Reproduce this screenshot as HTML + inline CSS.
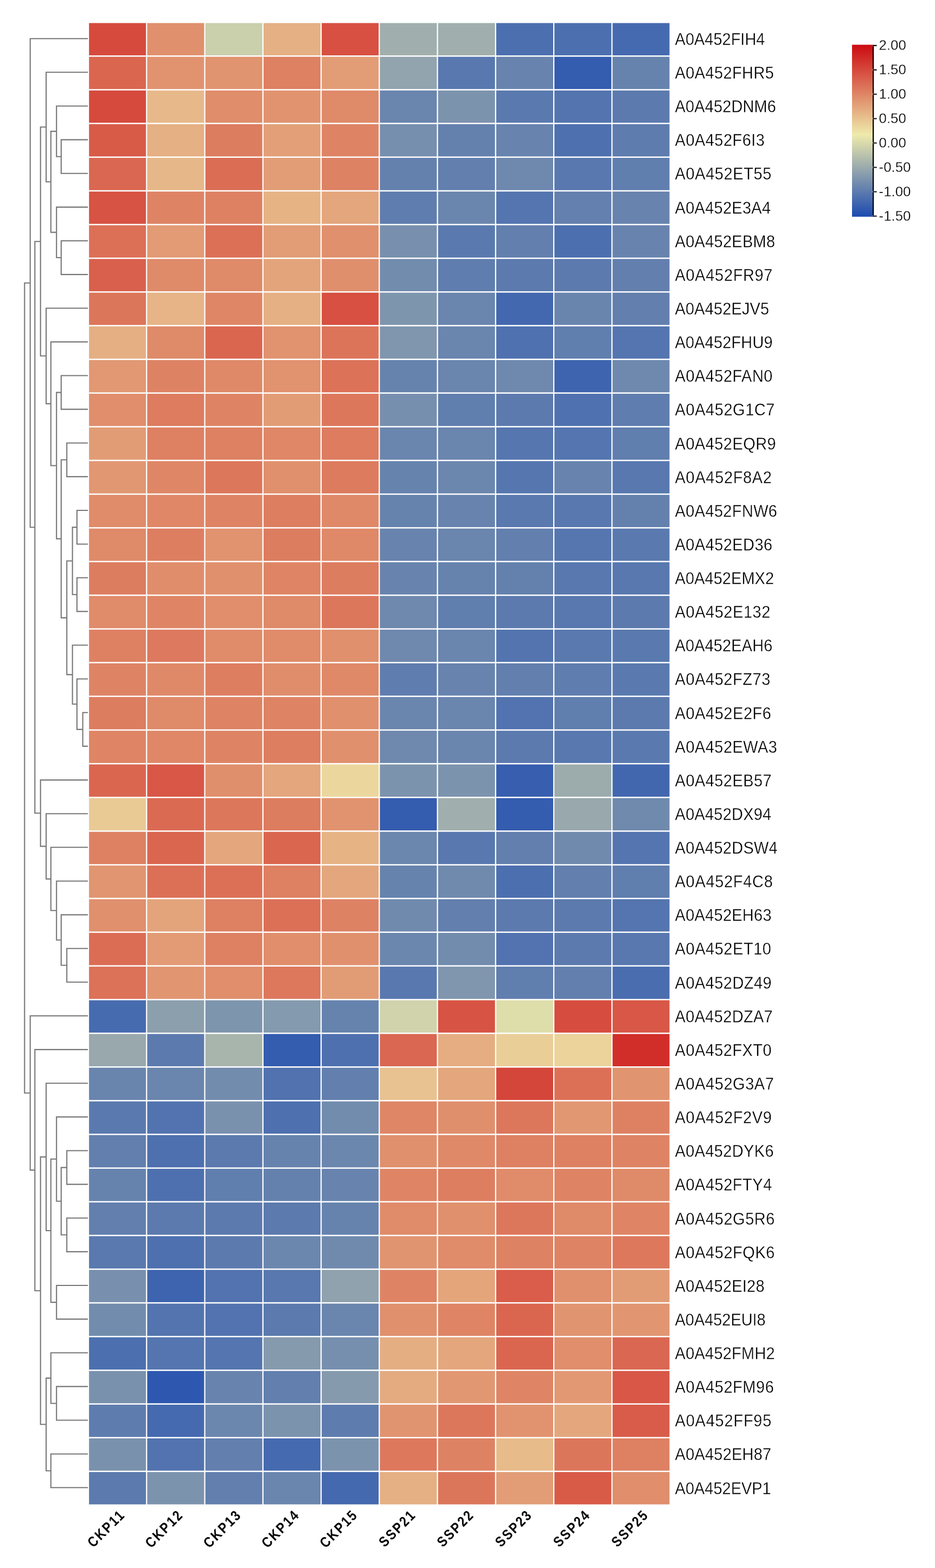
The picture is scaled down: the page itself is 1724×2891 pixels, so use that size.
<!DOCTYPE html>
<html lang="en"><head><meta charset="utf-8"><title>Heatmap</title>
<style>html,body{margin:0;padding:0;background:#fff}svg{display:block}.rl{font-family:"Liberation Sans",Arial,sans-serif;font-size:30.5px;fill:#000;stroke:#fff;stroke-width:0.35px}.cl{font-family:"Liberation Sans",Arial,sans-serif;font-size:26.5px;font-weight:bold;fill:#000;letter-spacing:3px}.lg{font-family:"Liberation Sans",Arial,sans-serif;font-size:25.8px;fill:#000;stroke:#fff;stroke-width:0.3px}</style></head><body>
<svg width="1724" height="2891" viewBox="0 0 1724 2891">
<rect width="1724" height="2891" fill="#fff"/>
<g>
<rect x="164.15" y="42.50" width="105.0" height="59.6" fill="#d64a3d"/>
<rect x="271.41" y="42.50" width="105.0" height="59.6" fill="#e0906d"/>
<rect x="378.67" y="42.50" width="105.0" height="59.6" fill="#cacfac"/>
<rect x="485.93" y="42.50" width="105.0" height="59.6" fill="#e5b083"/>
<rect x="593.19" y="42.50" width="105.0" height="59.6" fill="#d75041"/>
<rect x="700.45" y="42.50" width="105.0" height="59.6" fill="#a0afad"/>
<rect x="807.71" y="42.50" width="105.0" height="59.6" fill="#a0afad"/>
<rect x="914.97" y="42.50" width="105.0" height="59.6" fill="#4c6faf"/>
<rect x="1022.23" y="42.50" width="105.0" height="59.6" fill="#4c6faf"/>
<rect x="1129.49" y="42.50" width="105.0" height="59.6" fill="#466aaf"/>
<rect x="164.15" y="104.63" width="105.0" height="59.6" fill="#da6650"/>
<rect x="271.41" y="104.63" width="105.0" height="59.6" fill="#e1936f"/>
<rect x="378.67" y="104.63" width="105.0" height="59.6" fill="#e19470"/>
<rect x="485.93" y="104.63" width="105.0" height="59.6" fill="#de8062"/>
<rect x="593.19" y="104.63" width="105.0" height="59.6" fill="#e29d76"/>
<rect x="700.45" y="104.63" width="105.0" height="59.6" fill="#92a4ad"/>
<rect x="807.71" y="104.63" width="105.0" height="59.6" fill="#5878af"/>
<rect x="914.97" y="104.63" width="105.0" height="59.6" fill="#6884ae"/>
<rect x="1022.23" y="104.63" width="105.0" height="59.6" fill="#345caf"/>
<rect x="1129.49" y="104.63" width="105.0" height="59.6" fill="#6683ae"/>
<rect x="164.15" y="166.76" width="105.0" height="59.6" fill="#d64a3d"/>
<rect x="271.41" y="166.76" width="105.0" height="59.6" fill="#e7b98a"/>
<rect x="378.67" y="166.76" width="105.0" height="59.6" fill="#e08d6b"/>
<rect x="485.93" y="166.76" width="105.0" height="59.6" fill="#e1936f"/>
<rect x="593.19" y="166.76" width="105.0" height="59.6" fill="#df8a69"/>
<rect x="700.45" y="166.76" width="105.0" height="59.6" fill="#6a85ae"/>
<rect x="807.71" y="166.76" width="105.0" height="59.6" fill="#7c93ae"/>
<rect x="914.97" y="166.76" width="105.0" height="59.6" fill="#5a7aaf"/>
<rect x="1022.23" y="166.76" width="105.0" height="59.6" fill="#5374af"/>
<rect x="1129.49" y="166.76" width="105.0" height="59.6" fill="#5c7aae"/>
<rect x="164.15" y="228.89" width="105.0" height="59.6" fill="#d85b48"/>
<rect x="271.41" y="228.89" width="105.0" height="59.6" fill="#e5b083"/>
<rect x="378.67" y="228.89" width="105.0" height="59.6" fill="#dd7d60"/>
<rect x="485.93" y="228.89" width="105.0" height="59.6" fill="#e3a078"/>
<rect x="593.19" y="228.89" width="105.0" height="59.6" fill="#de8465"/>
<rect x="700.45" y="228.89" width="105.0" height="59.6" fill="#768fae"/>
<rect x="807.71" y="228.89" width="105.0" height="59.6" fill="#6481ae"/>
<rect x="914.97" y="228.89" width="105.0" height="59.6" fill="#6884ae"/>
<rect x="1022.23" y="228.89" width="105.0" height="59.6" fill="#4e70af"/>
<rect x="1129.49" y="228.89" width="105.0" height="59.6" fill="#5e7cae"/>
<rect x="164.15" y="291.02" width="105.0" height="59.6" fill="#da6751"/>
<rect x="271.41" y="291.02" width="105.0" height="59.6" fill="#e6b788"/>
<rect x="378.67" y="291.02" width="105.0" height="59.6" fill="#db6d55"/>
<rect x="485.93" y="291.02" width="105.0" height="59.6" fill="#e29d76"/>
<rect x="593.19" y="291.02" width="105.0" height="59.6" fill="#de8264"/>
<rect x="700.45" y="291.02" width="105.0" height="59.6" fill="#6481ae"/>
<rect x="807.71" y="291.02" width="105.0" height="59.6" fill="#627fae"/>
<rect x="914.97" y="291.02" width="105.0" height="59.6" fill="#6e88ae"/>
<rect x="1022.23" y="291.02" width="105.0" height="59.6" fill="#5878af"/>
<rect x="1129.49" y="291.02" width="105.0" height="59.6" fill="#607eae"/>
<rect x="164.15" y="353.15" width="105.0" height="59.6" fill="#d75343"/>
<rect x="271.41" y="353.15" width="105.0" height="59.6" fill="#de8465"/>
<rect x="378.67" y="353.15" width="105.0" height="59.6" fill="#de8163"/>
<rect x="485.93" y="353.15" width="105.0" height="59.6" fill="#e6b385"/>
<rect x="593.19" y="353.15" width="105.0" height="59.6" fill="#e4a67c"/>
<rect x="700.45" y="353.15" width="105.0" height="59.6" fill="#5f7dae"/>
<rect x="807.71" y="353.15" width="105.0" height="59.6" fill="#6b86ae"/>
<rect x="914.97" y="353.15" width="105.0" height="59.6" fill="#5475af"/>
<rect x="1022.23" y="353.15" width="105.0" height="59.6" fill="#6380ae"/>
<rect x="1129.49" y="353.15" width="105.0" height="59.6" fill="#6884ae"/>
<rect x="164.15" y="415.28" width="105.0" height="59.6" fill="#dc7057"/>
<rect x="271.41" y="415.28" width="105.0" height="59.6" fill="#e29b74"/>
<rect x="378.67" y="415.28" width="105.0" height="59.6" fill="#dc7057"/>
<rect x="485.93" y="415.28" width="105.0" height="59.6" fill="#e29d76"/>
<rect x="593.19" y="415.28" width="105.0" height="59.6" fill="#e0906d"/>
<rect x="700.45" y="415.28" width="105.0" height="59.6" fill="#7890ae"/>
<rect x="807.71" y="415.28" width="105.0" height="59.6" fill="#5a7aaf"/>
<rect x="914.97" y="415.28" width="105.0" height="59.6" fill="#627fae"/>
<rect x="1022.23" y="415.28" width="105.0" height="59.6" fill="#4c6faf"/>
<rect x="1129.49" y="415.28" width="105.0" height="59.6" fill="#6884ae"/>
<rect x="164.15" y="477.41" width="105.0" height="59.6" fill="#d9604c"/>
<rect x="271.41" y="477.41" width="105.0" height="59.6" fill="#df8a69"/>
<rect x="378.67" y="477.41" width="105.0" height="59.6" fill="#df8a69"/>
<rect x="485.93" y="477.41" width="105.0" height="59.6" fill="#e3a47b"/>
<rect x="593.19" y="477.41" width="105.0" height="59.6" fill="#e08f6d"/>
<rect x="700.45" y="477.41" width="105.0" height="59.6" fill="#728cae"/>
<rect x="807.71" y="477.41" width="105.0" height="59.6" fill="#5f7dae"/>
<rect x="914.97" y="477.41" width="105.0" height="59.6" fill="#5c7aae"/>
<rect x="1022.23" y="477.41" width="105.0" height="59.6" fill="#5c7aae"/>
<rect x="1129.49" y="477.41" width="105.0" height="59.6" fill="#627fae"/>
<rect x="164.15" y="539.54" width="105.0" height="59.6" fill="#dc765b"/>
<rect x="271.41" y="539.54" width="105.0" height="59.6" fill="#e6b486"/>
<rect x="378.67" y="539.54" width="105.0" height="59.6" fill="#df8666"/>
<rect x="485.93" y="539.54" width="105.0" height="59.6" fill="#e5b083"/>
<rect x="593.19" y="539.54" width="105.0" height="59.6" fill="#d75041"/>
<rect x="700.45" y="539.54" width="105.0" height="59.6" fill="#7e95ae"/>
<rect x="807.71" y="539.54" width="105.0" height="59.6" fill="#6a85ae"/>
<rect x="914.97" y="539.54" width="105.0" height="59.6" fill="#4468af"/>
<rect x="1022.23" y="539.54" width="105.0" height="59.6" fill="#6985ae"/>
<rect x="1129.49" y="539.54" width="105.0" height="59.6" fill="#627fae"/>
<rect x="164.15" y="601.67" width="105.0" height="59.6" fill="#e5af83"/>
<rect x="271.41" y="601.67" width="105.0" height="59.6" fill="#df8a69"/>
<rect x="378.67" y="601.67" width="105.0" height="59.6" fill="#da6650"/>
<rect x="485.93" y="601.67" width="105.0" height="59.6" fill="#e1926e"/>
<rect x="593.19" y="601.67" width="105.0" height="59.6" fill="#dc745a"/>
<rect x="700.45" y="601.67" width="105.0" height="59.6" fill="#8096ae"/>
<rect x="807.71" y="601.67" width="105.0" height="59.6" fill="#6a85ae"/>
<rect x="914.97" y="601.67" width="105.0" height="59.6" fill="#5071af"/>
<rect x="1022.23" y="601.67" width="105.0" height="59.6" fill="#607eae"/>
<rect x="1129.49" y="601.67" width="105.0" height="59.6" fill="#5475af"/>
<rect x="164.15" y="663.80" width="105.0" height="59.6" fill="#e29873"/>
<rect x="271.41" y="663.80" width="105.0" height="59.6" fill="#de8264"/>
<rect x="378.67" y="663.80" width="105.0" height="59.6" fill="#df8968"/>
<rect x="485.93" y="663.80" width="105.0" height="59.6" fill="#e1926e"/>
<rect x="593.19" y="663.80" width="105.0" height="59.6" fill="#dc7258"/>
<rect x="700.45" y="663.80" width="105.0" height="59.6" fill="#6683ae"/>
<rect x="807.71" y="663.80" width="105.0" height="59.6" fill="#6a85ae"/>
<rect x="914.97" y="663.80" width="105.0" height="59.6" fill="#6e88ae"/>
<rect x="1022.23" y="663.80" width="105.0" height="59.6" fill="#3e64af"/>
<rect x="1129.49" y="663.80" width="105.0" height="59.6" fill="#6e88ae"/>
<rect x="164.15" y="725.93" width="105.0" height="59.6" fill="#e08e6c"/>
<rect x="271.41" y="725.93" width="105.0" height="59.6" fill="#dd7c5f"/>
<rect x="378.67" y="725.93" width="105.0" height="59.6" fill="#de8465"/>
<rect x="485.93" y="725.93" width="105.0" height="59.6" fill="#e29c75"/>
<rect x="593.19" y="725.93" width="105.0" height="59.6" fill="#dd775c"/>
<rect x="700.45" y="725.93" width="105.0" height="59.6" fill="#778fae"/>
<rect x="807.71" y="725.93" width="105.0" height="59.6" fill="#607eae"/>
<rect x="914.97" y="725.93" width="105.0" height="59.6" fill="#5c7aae"/>
<rect x="1022.23" y="725.93" width="105.0" height="59.6" fill="#5071af"/>
<rect x="1129.49" y="725.93" width="105.0" height="59.6" fill="#5f7dae"/>
<rect x="164.15" y="788.06" width="105.0" height="59.6" fill="#e29c75"/>
<rect x="271.41" y="788.06" width="105.0" height="59.6" fill="#de8062"/>
<rect x="378.67" y="788.06" width="105.0" height="59.6" fill="#de8163"/>
<rect x="485.93" y="788.06" width="105.0" height="59.6" fill="#df8767"/>
<rect x="593.19" y="788.06" width="105.0" height="59.6" fill="#dd7c5f"/>
<rect x="700.45" y="788.06" width="105.0" height="59.6" fill="#6b86ae"/>
<rect x="807.71" y="788.06" width="105.0" height="59.6" fill="#6a85ae"/>
<rect x="914.97" y="788.06" width="105.0" height="59.6" fill="#5676af"/>
<rect x="1022.23" y="788.06" width="105.0" height="59.6" fill="#5475af"/>
<rect x="1129.49" y="788.06" width="105.0" height="59.6" fill="#607eae"/>
<rect x="164.15" y="850.19" width="105.0" height="59.6" fill="#e19772"/>
<rect x="271.41" y="850.19" width="105.0" height="59.6" fill="#df8666"/>
<rect x="378.67" y="850.19" width="105.0" height="59.6" fill="#dd775c"/>
<rect x="485.93" y="850.19" width="105.0" height="59.6" fill="#e0906d"/>
<rect x="593.19" y="850.19" width="105.0" height="59.6" fill="#dd7b5e"/>
<rect x="700.45" y="850.19" width="105.0" height="59.6" fill="#6683ae"/>
<rect x="807.71" y="850.19" width="105.0" height="59.6" fill="#6c87ae"/>
<rect x="914.97" y="850.19" width="105.0" height="59.6" fill="#5676af"/>
<rect x="1022.23" y="850.19" width="105.0" height="59.6" fill="#6884ae"/>
<rect x="1129.49" y="850.19" width="105.0" height="59.6" fill="#5878af"/>
<rect x="164.15" y="912.32" width="105.0" height="59.6" fill="#e08b6a"/>
<rect x="271.41" y="912.32" width="105.0" height="59.6" fill="#df8767"/>
<rect x="378.67" y="912.32" width="105.0" height="59.6" fill="#de8465"/>
<rect x="485.93" y="912.32" width="105.0" height="59.6" fill="#de7e61"/>
<rect x="593.19" y="912.32" width="105.0" height="59.6" fill="#df8968"/>
<rect x="700.45" y="912.32" width="105.0" height="59.6" fill="#6683ae"/>
<rect x="807.71" y="912.32" width="105.0" height="59.6" fill="#6884ae"/>
<rect x="914.97" y="912.32" width="105.0" height="59.6" fill="#5979af"/>
<rect x="1022.23" y="912.32" width="105.0" height="59.6" fill="#5878af"/>
<rect x="1129.49" y="912.32" width="105.0" height="59.6" fill="#6481ae"/>
<rect x="164.15" y="974.45" width="105.0" height="59.6" fill="#df8a69"/>
<rect x="271.41" y="974.45" width="105.0" height="59.6" fill="#de7e61"/>
<rect x="378.67" y="974.45" width="105.0" height="59.6" fill="#e1936f"/>
<rect x="485.93" y="974.45" width="105.0" height="59.6" fill="#dd7d60"/>
<rect x="593.19" y="974.45" width="105.0" height="59.6" fill="#df8968"/>
<rect x="700.45" y="974.45" width="105.0" height="59.6" fill="#6884ae"/>
<rect x="807.71" y="974.45" width="105.0" height="59.6" fill="#6a85ae"/>
<rect x="914.97" y="974.45" width="105.0" height="59.6" fill="#627fae"/>
<rect x="1022.23" y="974.45" width="105.0" height="59.6" fill="#5676af"/>
<rect x="1129.49" y="974.45" width="105.0" height="59.6" fill="#5a7aaf"/>
<rect x="164.15" y="1036.58" width="105.0" height="59.6" fill="#dd7d60"/>
<rect x="271.41" y="1036.58" width="105.0" height="59.6" fill="#e08d6b"/>
<rect x="378.67" y="1036.58" width="105.0" height="59.6" fill="#e0906d"/>
<rect x="485.93" y="1036.58" width="105.0" height="59.6" fill="#df8565"/>
<rect x="593.19" y="1036.58" width="105.0" height="59.6" fill="#dd7d60"/>
<rect x="700.45" y="1036.58" width="105.0" height="59.6" fill="#6884ae"/>
<rect x="807.71" y="1036.58" width="105.0" height="59.6" fill="#6683ae"/>
<rect x="914.97" y="1036.58" width="105.0" height="59.6" fill="#6481ae"/>
<rect x="1022.23" y="1036.58" width="105.0" height="59.6" fill="#5878af"/>
<rect x="1129.49" y="1036.58" width="105.0" height="59.6" fill="#5878af"/>
<rect x="164.15" y="1098.71" width="105.0" height="59.6" fill="#e08b6a"/>
<rect x="271.41" y="1098.71" width="105.0" height="59.6" fill="#df8565"/>
<rect x="378.67" y="1098.71" width="105.0" height="59.6" fill="#e08e6c"/>
<rect x="485.93" y="1098.71" width="105.0" height="59.6" fill="#df8a69"/>
<rect x="593.19" y="1098.71" width="105.0" height="59.6" fill="#dd775c"/>
<rect x="700.45" y="1098.71" width="105.0" height="59.6" fill="#6e88ae"/>
<rect x="807.71" y="1098.71" width="105.0" height="59.6" fill="#607eae"/>
<rect x="914.97" y="1098.71" width="105.0" height="59.6" fill="#5c7aae"/>
<rect x="1022.23" y="1098.71" width="105.0" height="59.6" fill="#5878af"/>
<rect x="1129.49" y="1098.71" width="105.0" height="59.6" fill="#5c7aae"/>
<rect x="164.15" y="1160.84" width="105.0" height="59.6" fill="#de8163"/>
<rect x="271.41" y="1160.84" width="105.0" height="59.6" fill="#dd795e"/>
<rect x="378.67" y="1160.84" width="105.0" height="59.6" fill="#e08b6a"/>
<rect x="485.93" y="1160.84" width="105.0" height="59.6" fill="#e08b6a"/>
<rect x="593.19" y="1160.84" width="105.0" height="59.6" fill="#e0906d"/>
<rect x="700.45" y="1160.84" width="105.0" height="59.6" fill="#6e88ae"/>
<rect x="807.71" y="1160.84" width="105.0" height="59.6" fill="#6a85ae"/>
<rect x="914.97" y="1160.84" width="105.0" height="59.6" fill="#5374af"/>
<rect x="1022.23" y="1160.84" width="105.0" height="59.6" fill="#5979af"/>
<rect x="1129.49" y="1160.84" width="105.0" height="59.6" fill="#5a7aaf"/>
<rect x="164.15" y="1222.97" width="105.0" height="59.6" fill="#de8465"/>
<rect x="271.41" y="1222.97" width="105.0" height="59.6" fill="#df8968"/>
<rect x="378.67" y="1222.97" width="105.0" height="59.6" fill="#de7e61"/>
<rect x="485.93" y="1222.97" width="105.0" height="59.6" fill="#e08d6b"/>
<rect x="593.19" y="1222.97" width="105.0" height="59.6" fill="#df8968"/>
<rect x="700.45" y="1222.97" width="105.0" height="59.6" fill="#5f7dae"/>
<rect x="807.71" y="1222.97" width="105.0" height="59.6" fill="#6884ae"/>
<rect x="914.97" y="1222.97" width="105.0" height="59.6" fill="#627fae"/>
<rect x="1022.23" y="1222.97" width="105.0" height="59.6" fill="#5f7dae"/>
<rect x="1129.49" y="1222.97" width="105.0" height="59.6" fill="#5a7aaf"/>
<rect x="164.15" y="1285.10" width="105.0" height="59.6" fill="#dd7d60"/>
<rect x="271.41" y="1285.10" width="105.0" height="59.6" fill="#df8a69"/>
<rect x="378.67" y="1285.10" width="105.0" height="59.6" fill="#de8465"/>
<rect x="485.93" y="1285.10" width="105.0" height="59.6" fill="#de8465"/>
<rect x="593.19" y="1285.10" width="105.0" height="59.6" fill="#e0906d"/>
<rect x="700.45" y="1285.10" width="105.0" height="59.6" fill="#6a85ae"/>
<rect x="807.71" y="1285.10" width="105.0" height="59.6" fill="#6a85ae"/>
<rect x="914.97" y="1285.10" width="105.0" height="59.6" fill="#5273af"/>
<rect x="1022.23" y="1285.10" width="105.0" height="59.6" fill="#607eae"/>
<rect x="1129.49" y="1285.10" width="105.0" height="59.6" fill="#5c7aae"/>
<rect x="164.15" y="1347.23" width="105.0" height="59.6" fill="#df8565"/>
<rect x="271.41" y="1347.23" width="105.0" height="59.6" fill="#df8767"/>
<rect x="378.67" y="1347.23" width="105.0" height="59.6" fill="#de8465"/>
<rect x="485.93" y="1347.23" width="105.0" height="59.6" fill="#de7e61"/>
<rect x="593.19" y="1347.23" width="105.0" height="59.6" fill="#e0906d"/>
<rect x="700.45" y="1347.23" width="105.0" height="59.6" fill="#6e88ae"/>
<rect x="807.71" y="1347.23" width="105.0" height="59.6" fill="#6a85ae"/>
<rect x="914.97" y="1347.23" width="105.0" height="59.6" fill="#5c7aae"/>
<rect x="1022.23" y="1347.23" width="105.0" height="59.6" fill="#5878af"/>
<rect x="1129.49" y="1347.23" width="105.0" height="59.6" fill="#5a7aaf"/>
<rect x="164.15" y="1409.36" width="105.0" height="59.6" fill="#da6650"/>
<rect x="271.41" y="1409.36" width="105.0" height="59.6" fill="#d85746"/>
<rect x="378.67" y="1409.36" width="105.0" height="59.6" fill="#e08f6d"/>
<rect x="485.93" y="1409.36" width="105.0" height="59.6" fill="#e4a67c"/>
<rect x="593.19" y="1409.36" width="105.0" height="59.6" fill="#ebd79e"/>
<rect x="700.45" y="1409.36" width="105.0" height="59.6" fill="#7c93ae"/>
<rect x="807.71" y="1409.36" width="105.0" height="59.6" fill="#7c93ae"/>
<rect x="914.97" y="1409.36" width="105.0" height="59.6" fill="#385faf"/>
<rect x="1022.23" y="1409.36" width="105.0" height="59.6" fill="#9cacad"/>
<rect x="1129.49" y="1409.36" width="105.0" height="59.6" fill="#4267af"/>
<rect x="164.15" y="1471.49" width="105.0" height="59.6" fill="#e9ca95"/>
<rect x="271.41" y="1471.49" width="105.0" height="59.6" fill="#db6a53"/>
<rect x="378.67" y="1471.49" width="105.0" height="59.6" fill="#dd775c"/>
<rect x="485.93" y="1471.49" width="105.0" height="59.6" fill="#dd7d60"/>
<rect x="593.19" y="1471.49" width="105.0" height="59.6" fill="#e1936f"/>
<rect x="700.45" y="1471.49" width="105.0" height="59.6" fill="#345caf"/>
<rect x="807.71" y="1471.49" width="105.0" height="59.6" fill="#a0afad"/>
<rect x="914.97" y="1471.49" width="105.0" height="59.6" fill="#345caf"/>
<rect x="1022.23" y="1471.49" width="105.0" height="59.6" fill="#98a8ad"/>
<rect x="1129.49" y="1471.49" width="105.0" height="59.6" fill="#708aae"/>
<rect x="164.15" y="1533.62" width="105.0" height="59.6" fill="#de8163"/>
<rect x="271.41" y="1533.62" width="105.0" height="59.6" fill="#da6650"/>
<rect x="378.67" y="1533.62" width="105.0" height="59.6" fill="#e4a77d"/>
<rect x="485.93" y="1533.62" width="105.0" height="59.6" fill="#da6650"/>
<rect x="593.19" y="1533.62" width="105.0" height="59.6" fill="#e6b385"/>
<rect x="700.45" y="1533.62" width="105.0" height="59.6" fill="#6c87ae"/>
<rect x="807.71" y="1533.62" width="105.0" height="59.6" fill="#5878af"/>
<rect x="914.97" y="1533.62" width="105.0" height="59.6" fill="#627fae"/>
<rect x="1022.23" y="1533.62" width="105.0" height="59.6" fill="#708aae"/>
<rect x="1129.49" y="1533.62" width="105.0" height="59.6" fill="#5475af"/>
<rect x="164.15" y="1595.75" width="105.0" height="59.6" fill="#e19671"/>
<rect x="271.41" y="1595.75" width="105.0" height="59.6" fill="#dc7057"/>
<rect x="378.67" y="1595.75" width="105.0" height="59.6" fill="#dc7057"/>
<rect x="485.93" y="1595.75" width="105.0" height="59.6" fill="#de8062"/>
<rect x="593.19" y="1595.75" width="105.0" height="59.6" fill="#e4a77d"/>
<rect x="700.45" y="1595.75" width="105.0" height="59.6" fill="#6683ae"/>
<rect x="807.71" y="1595.75" width="105.0" height="59.6" fill="#708aae"/>
<rect x="914.97" y="1595.75" width="105.0" height="59.6" fill="#4c6faf"/>
<rect x="1022.23" y="1595.75" width="105.0" height="59.6" fill="#627fae"/>
<rect x="1129.49" y="1595.75" width="105.0" height="59.6" fill="#607eae"/>
<rect x="164.15" y="1657.88" width="105.0" height="59.6" fill="#e0906d"/>
<rect x="271.41" y="1657.88" width="105.0" height="59.6" fill="#e3a47b"/>
<rect x="378.67" y="1657.88" width="105.0" height="59.6" fill="#de8062"/>
<rect x="485.93" y="1657.88" width="105.0" height="59.6" fill="#dc7057"/>
<rect x="593.19" y="1657.88" width="105.0" height="59.6" fill="#de8264"/>
<rect x="700.45" y="1657.88" width="105.0" height="59.6" fill="#708aae"/>
<rect x="807.71" y="1657.88" width="105.0" height="59.6" fill="#627fae"/>
<rect x="914.97" y="1657.88" width="105.0" height="59.6" fill="#5c7aae"/>
<rect x="1022.23" y="1657.88" width="105.0" height="59.6" fill="#5c7aae"/>
<rect x="1129.49" y="1657.88" width="105.0" height="59.6" fill="#5475af"/>
<rect x="164.15" y="1720.01" width="105.0" height="59.6" fill="#db6d55"/>
<rect x="271.41" y="1720.01" width="105.0" height="59.6" fill="#e29b74"/>
<rect x="378.67" y="1720.01" width="105.0" height="59.6" fill="#de8062"/>
<rect x="485.93" y="1720.01" width="105.0" height="59.6" fill="#e08e6c"/>
<rect x="593.19" y="1720.01" width="105.0" height="59.6" fill="#e0906d"/>
<rect x="700.45" y="1720.01" width="105.0" height="59.6" fill="#6c87ae"/>
<rect x="807.71" y="1720.01" width="105.0" height="59.6" fill="#728cae"/>
<rect x="914.97" y="1720.01" width="105.0" height="59.6" fill="#5273af"/>
<rect x="1022.23" y="1720.01" width="105.0" height="59.6" fill="#5c7aae"/>
<rect x="1129.49" y="1720.01" width="105.0" height="59.6" fill="#5878af"/>
<rect x="164.15" y="1782.14" width="105.0" height="59.6" fill="#dc7258"/>
<rect x="271.41" y="1782.14" width="105.0" height="59.6" fill="#e19671"/>
<rect x="378.67" y="1782.14" width="105.0" height="59.6" fill="#e08e6c"/>
<rect x="485.93" y="1782.14" width="105.0" height="59.6" fill="#dd785d"/>
<rect x="593.19" y="1782.14" width="105.0" height="59.6" fill="#e29c75"/>
<rect x="700.45" y="1782.14" width="105.0" height="59.6" fill="#5878af"/>
<rect x="807.71" y="1782.14" width="105.0" height="59.6" fill="#8096ae"/>
<rect x="914.97" y="1782.14" width="105.0" height="59.6" fill="#607eae"/>
<rect x="1022.23" y="1782.14" width="105.0" height="59.6" fill="#627fae"/>
<rect x="1129.49" y="1782.14" width="105.0" height="59.6" fill="#4a6daf"/>
<rect x="164.15" y="1844.27" width="105.0" height="59.6" fill="#476baf"/>
<rect x="271.41" y="1844.27" width="105.0" height="59.6" fill="#8c9fad"/>
<rect x="378.67" y="1844.27" width="105.0" height="59.6" fill="#7e95ae"/>
<rect x="485.93" y="1844.27" width="105.0" height="59.6" fill="#849aae"/>
<rect x="593.19" y="1844.27" width="105.0" height="59.6" fill="#6683ae"/>
<rect x="700.45" y="1844.27" width="105.0" height="59.6" fill="#d0d3ac"/>
<rect x="807.71" y="1844.27" width="105.0" height="59.6" fill="#d75444"/>
<rect x="914.97" y="1844.27" width="105.0" height="59.6" fill="#dedeab"/>
<rect x="1022.23" y="1844.27" width="105.0" height="59.6" fill="#d64d3f"/>
<rect x="1129.49" y="1844.27" width="105.0" height="59.6" fill="#d85746"/>
<rect x="164.15" y="1906.40" width="105.0" height="59.6" fill="#98a8ad"/>
<rect x="271.41" y="1906.40" width="105.0" height="59.6" fill="#5c7aae"/>
<rect x="378.67" y="1906.40" width="105.0" height="59.6" fill="#a8b5ad"/>
<rect x="485.93" y="1906.40" width="105.0" height="59.6" fill="#345caf"/>
<rect x="593.19" y="1906.40" width="105.0" height="59.6" fill="#4e70af"/>
<rect x="700.45" y="1906.40" width="105.0" height="59.6" fill="#da6751"/>
<rect x="807.71" y="1906.40" width="105.0" height="59.6" fill="#e5ad81"/>
<rect x="914.97" y="1906.40" width="105.0" height="59.6" fill="#eace98"/>
<rect x="1022.23" y="1906.40" width="105.0" height="59.6" fill="#ebd39b"/>
<rect x="1129.49" y="1906.40" width="105.0" height="59.6" fill="#d12e2a"/>
<rect x="164.15" y="1968.53" width="105.0" height="59.6" fill="#6985ae"/>
<rect x="271.41" y="1968.53" width="105.0" height="59.6" fill="#6a85ae"/>
<rect x="378.67" y="1968.53" width="105.0" height="59.6" fill="#728cae"/>
<rect x="485.93" y="1968.53" width="105.0" height="59.6" fill="#5172af"/>
<rect x="593.19" y="1968.53" width="105.0" height="59.6" fill="#627fae"/>
<rect x="700.45" y="1968.53" width="105.0" height="59.6" fill="#e8c290"/>
<rect x="807.71" y="1968.53" width="105.0" height="59.6" fill="#e4a67c"/>
<rect x="914.97" y="1968.53" width="105.0" height="59.6" fill="#d5463a"/>
<rect x="1022.23" y="1968.53" width="105.0" height="59.6" fill="#dc7057"/>
<rect x="1129.49" y="1968.53" width="105.0" height="59.6" fill="#e19470"/>
<rect x="164.15" y="2030.66" width="105.0" height="59.6" fill="#5a7aaf"/>
<rect x="271.41" y="2030.66" width="105.0" height="59.6" fill="#5273af"/>
<rect x="378.67" y="2030.66" width="105.0" height="59.6" fill="#7a91ae"/>
<rect x="485.93" y="2030.66" width="105.0" height="59.6" fill="#4e70af"/>
<rect x="593.19" y="2030.66" width="105.0" height="59.6" fill="#728cae"/>
<rect x="700.45" y="2030.66" width="105.0" height="59.6" fill="#df8666"/>
<rect x="807.71" y="2030.66" width="105.0" height="59.6" fill="#e08f6d"/>
<rect x="914.97" y="2030.66" width="105.0" height="59.6" fill="#dd775c"/>
<rect x="1022.23" y="2030.66" width="105.0" height="59.6" fill="#e19772"/>
<rect x="1129.49" y="2030.66" width="105.0" height="59.6" fill="#de8163"/>
<rect x="164.15" y="2092.79" width="105.0" height="59.6" fill="#627fae"/>
<rect x="271.41" y="2092.79" width="105.0" height="59.6" fill="#4e70af"/>
<rect x="378.67" y="2092.79" width="105.0" height="59.6" fill="#5c7aae"/>
<rect x="485.93" y="2092.79" width="105.0" height="59.6" fill="#6683ae"/>
<rect x="593.19" y="2092.79" width="105.0" height="59.6" fill="#6c87ae"/>
<rect x="700.45" y="2092.79" width="105.0" height="59.6" fill="#e0906d"/>
<rect x="807.71" y="2092.79" width="105.0" height="59.6" fill="#df8968"/>
<rect x="914.97" y="2092.79" width="105.0" height="59.6" fill="#de8163"/>
<rect x="1022.23" y="2092.79" width="105.0" height="59.6" fill="#de8163"/>
<rect x="1129.49" y="2092.79" width="105.0" height="59.6" fill="#de8465"/>
<rect x="164.15" y="2154.92" width="105.0" height="59.6" fill="#6683ae"/>
<rect x="271.41" y="2154.92" width="105.0" height="59.6" fill="#4e70af"/>
<rect x="378.67" y="2154.92" width="105.0" height="59.6" fill="#607eae"/>
<rect x="485.93" y="2154.92" width="105.0" height="59.6" fill="#6481ae"/>
<rect x="593.19" y="2154.92" width="105.0" height="59.6" fill="#6884ae"/>
<rect x="700.45" y="2154.92" width="105.0" height="59.6" fill="#df8565"/>
<rect x="807.71" y="2154.92" width="105.0" height="59.6" fill="#de7e61"/>
<rect x="914.97" y="2154.92" width="105.0" height="59.6" fill="#e08b6a"/>
<rect x="1022.23" y="2154.92" width="105.0" height="59.6" fill="#de8465"/>
<rect x="1129.49" y="2154.92" width="105.0" height="59.6" fill="#df8a69"/>
<rect x="164.15" y="2217.05" width="105.0" height="59.6" fill="#627fae"/>
<rect x="271.41" y="2217.05" width="105.0" height="59.6" fill="#5c7aae"/>
<rect x="378.67" y="2217.05" width="105.0" height="59.6" fill="#5c7aae"/>
<rect x="485.93" y="2217.05" width="105.0" height="59.6" fill="#5c7aae"/>
<rect x="593.19" y="2217.05" width="105.0" height="59.6" fill="#6683ae"/>
<rect x="700.45" y="2217.05" width="105.0" height="59.6" fill="#e08b6a"/>
<rect x="807.71" y="2217.05" width="105.0" height="59.6" fill="#e0906d"/>
<rect x="914.97" y="2217.05" width="105.0" height="59.6" fill="#dd775c"/>
<rect x="1022.23" y="2217.05" width="105.0" height="59.6" fill="#df8a69"/>
<rect x="1129.49" y="2217.05" width="105.0" height="59.6" fill="#df8565"/>
<rect x="164.15" y="2279.18" width="105.0" height="59.6" fill="#5979af"/>
<rect x="271.41" y="2279.18" width="105.0" height="59.6" fill="#4e70af"/>
<rect x="378.67" y="2279.18" width="105.0" height="59.6" fill="#5c7aae"/>
<rect x="485.93" y="2279.18" width="105.0" height="59.6" fill="#6c87ae"/>
<rect x="593.19" y="2279.18" width="105.0" height="59.6" fill="#708aae"/>
<rect x="700.45" y="2279.18" width="105.0" height="59.6" fill="#e19470"/>
<rect x="807.71" y="2279.18" width="105.0" height="59.6" fill="#e08b6a"/>
<rect x="914.97" y="2279.18" width="105.0" height="59.6" fill="#de8264"/>
<rect x="1022.23" y="2279.18" width="105.0" height="59.6" fill="#de8465"/>
<rect x="1129.49" y="2279.18" width="105.0" height="59.6" fill="#dd785d"/>
<rect x="164.15" y="2341.31" width="105.0" height="59.6" fill="#7890ae"/>
<rect x="271.41" y="2341.31" width="105.0" height="59.6" fill="#3e64af"/>
<rect x="378.67" y="2341.31" width="105.0" height="59.6" fill="#5273af"/>
<rect x="485.93" y="2341.31" width="105.0" height="59.6" fill="#5878af"/>
<rect x="593.19" y="2341.31" width="105.0" height="59.6" fill="#8fa2ad"/>
<rect x="700.45" y="2341.31" width="105.0" height="59.6" fill="#de8465"/>
<rect x="807.71" y="2341.31" width="105.0" height="59.6" fill="#e4a57b"/>
<rect x="914.97" y="2341.31" width="105.0" height="59.6" fill="#d95d4a"/>
<rect x="1022.23" y="2341.31" width="105.0" height="59.6" fill="#e0906d"/>
<rect x="1129.49" y="2341.31" width="105.0" height="59.6" fill="#e29c75"/>
<rect x="164.15" y="2403.44" width="105.0" height="59.6" fill="#728cae"/>
<rect x="271.41" y="2403.44" width="105.0" height="59.6" fill="#5374af"/>
<rect x="378.67" y="2403.44" width="105.0" height="59.6" fill="#5273af"/>
<rect x="485.93" y="2403.44" width="105.0" height="59.6" fill="#5c7aae"/>
<rect x="593.19" y="2403.44" width="105.0" height="59.6" fill="#6a85ae"/>
<rect x="700.45" y="2403.44" width="105.0" height="59.6" fill="#e0906d"/>
<rect x="807.71" y="2403.44" width="105.0" height="59.6" fill="#df8565"/>
<rect x="914.97" y="2403.44" width="105.0" height="59.6" fill="#da6650"/>
<rect x="1022.23" y="2403.44" width="105.0" height="59.6" fill="#e19470"/>
<rect x="1129.49" y="2403.44" width="105.0" height="59.6" fill="#e19671"/>
<rect x="164.15" y="2465.57" width="105.0" height="59.6" fill="#4c6faf"/>
<rect x="271.41" y="2465.57" width="105.0" height="59.6" fill="#5475af"/>
<rect x="378.67" y="2465.57" width="105.0" height="59.6" fill="#5475af"/>
<rect x="485.93" y="2465.57" width="105.0" height="59.6" fill="#869aad"/>
<rect x="593.19" y="2465.57" width="105.0" height="59.6" fill="#768fae"/>
<rect x="700.45" y="2465.57" width="105.0" height="59.6" fill="#e5ae82"/>
<rect x="807.71" y="2465.57" width="105.0" height="59.6" fill="#e4a77d"/>
<rect x="914.97" y="2465.57" width="105.0" height="59.6" fill="#da6650"/>
<rect x="1022.23" y="2465.57" width="105.0" height="59.6" fill="#e08e6c"/>
<rect x="1129.49" y="2465.57" width="105.0" height="59.6" fill="#da6751"/>
<rect x="164.15" y="2527.70" width="105.0" height="59.6" fill="#7a91ae"/>
<rect x="271.41" y="2527.70" width="105.0" height="59.6" fill="#2e58b0"/>
<rect x="378.67" y="2527.70" width="105.0" height="59.6" fill="#6884ae"/>
<rect x="485.93" y="2527.70" width="105.0" height="59.6" fill="#627fae"/>
<rect x="593.19" y="2527.70" width="105.0" height="59.6" fill="#869aad"/>
<rect x="700.45" y="2527.70" width="105.0" height="59.6" fill="#e4ab80"/>
<rect x="807.71" y="2527.70" width="105.0" height="59.6" fill="#e19772"/>
<rect x="914.97" y="2527.70" width="105.0" height="59.6" fill="#df8565"/>
<rect x="1022.23" y="2527.70" width="105.0" height="59.6" fill="#e29873"/>
<rect x="1129.49" y="2527.70" width="105.0" height="59.6" fill="#d85746"/>
<rect x="164.15" y="2589.83" width="105.0" height="59.6" fill="#5e7cae"/>
<rect x="271.41" y="2589.83" width="105.0" height="59.6" fill="#466aaf"/>
<rect x="378.67" y="2589.83" width="105.0" height="59.6" fill="#6c87ae"/>
<rect x="485.93" y="2589.83" width="105.0" height="59.6" fill="#7c93ae"/>
<rect x="593.19" y="2589.83" width="105.0" height="59.6" fill="#5e7cae"/>
<rect x="700.45" y="2589.83" width="105.0" height="59.6" fill="#e19470"/>
<rect x="807.71" y="2589.83" width="105.0" height="59.6" fill="#dd775c"/>
<rect x="914.97" y="2589.83" width="105.0" height="59.6" fill="#e1936f"/>
<rect x="1022.23" y="2589.83" width="105.0" height="59.6" fill="#e4a77d"/>
<rect x="1129.49" y="2589.83" width="105.0" height="59.6" fill="#d85c49"/>
<rect x="164.15" y="2651.96" width="105.0" height="59.6" fill="#7a91ae"/>
<rect x="271.41" y="2651.96" width="105.0" height="59.6" fill="#5273af"/>
<rect x="378.67" y="2651.96" width="105.0" height="59.6" fill="#627fae"/>
<rect x="485.93" y="2651.96" width="105.0" height="59.6" fill="#466aaf"/>
<rect x="593.19" y="2651.96" width="105.0" height="59.6" fill="#7c93ae"/>
<rect x="700.45" y="2651.96" width="105.0" height="59.6" fill="#dd785d"/>
<rect x="807.71" y="2651.96" width="105.0" height="59.6" fill="#de8264"/>
<rect x="914.97" y="2651.96" width="105.0" height="59.6" fill="#e7bb8a"/>
<rect x="1022.23" y="2651.96" width="105.0" height="59.6" fill="#dc765b"/>
<rect x="1129.49" y="2651.96" width="105.0" height="59.6" fill="#de8062"/>
<rect x="164.15" y="2714.09" width="105.0" height="59.6" fill="#5c7aae"/>
<rect x="271.41" y="2714.09" width="105.0" height="59.6" fill="#7c93ae"/>
<rect x="378.67" y="2714.09" width="105.0" height="59.6" fill="#627fae"/>
<rect x="485.93" y="2714.09" width="105.0" height="59.6" fill="#6a85ae"/>
<rect x="593.19" y="2714.09" width="105.0" height="59.6" fill="#4569af"/>
<rect x="700.45" y="2714.09" width="105.0" height="59.6" fill="#e5b083"/>
<rect x="807.71" y="2714.09" width="105.0" height="59.6" fill="#dc765b"/>
<rect x="914.97" y="2714.09" width="105.0" height="59.6" fill="#e29d76"/>
<rect x="1022.23" y="2714.09" width="105.0" height="59.6" fill="#d85b48"/>
<rect x="1129.49" y="2714.09" width="105.0" height="59.6" fill="#e08e6c"/>
</g>
<g class="rl">
<text transform="translate(1244.6,82.9) scale(0.951,1)" letter-spacing="-0.02">A0A452FIH4</text>
<text transform="translate(1244.6,145.0) scale(0.951,1)" letter-spacing="0.39">A0A452FHR5</text>
<text transform="translate(1244.6,207.2) scale(0.951,1)" letter-spacing="0.11">A0A452DNM6</text>
<text transform="translate(1244.6,269.3) scale(0.951,1)" letter-spacing="0.48">A0A452F6I3</text>
<text transform="translate(1244.6,331.4) scale(0.951,1)" letter-spacing="0.61">A0A452ET55</text>
<text transform="translate(1244.6,393.6) scale(0.951,1)" letter-spacing="0.27">A0A452E3A4</text>
<text transform="translate(1244.6,455.7) scale(0.951,1)" letter-spacing="0.27">A0A452EBM8</text>
<text transform="translate(1244.6,517.8) scale(0.951,1)" letter-spacing="0.68">A0A452FR97</text>
<text transform="translate(1244.6,579.9) scale(0.951,1)" letter-spacing="0.12">A0A452EJV5</text>
<text transform="translate(1244.6,642.1) scale(0.951,1)" letter-spacing="0.13">A0A452FHU9</text>
<text transform="translate(1244.6,704.2) scale(0.951,1)" letter-spacing="0.48">A0A452FAN0</text>
<text transform="translate(1244.6,766.3) scale(0.951,1)" letter-spacing="0.58">A0A452G1C7</text>
<text transform="translate(1244.6,828.5) scale(0.951,1)" letter-spacing="0.46">A0A452EQR9</text>
<text transform="translate(1244.6,890.6) scale(0.951,1)" letter-spacing="0.69">A0A452F8A2</text>
<text transform="translate(1244.6,952.7) scale(0.951,1)" letter-spacing="0.36">A0A452FNW6</text>
<text transform="translate(1244.6,1014.9) scale(0.951,1)" letter-spacing="0.44">A0A452ED36</text>
<text transform="translate(1244.6,1077.0) scale(0.951,1)" letter-spacing="0.04">A0A452EMX2</text>
<text transform="translate(1244.6,1139.1) scale(0.951,1)" letter-spacing="0.57">A0A452E132</text>
<text transform="translate(1244.6,1201.2) scale(0.951,1)" letter-spacing="0.09">A0A452EAH6</text>
<text transform="translate(1244.6,1263.4) scale(0.951,1)" letter-spacing="0.57">A0A452FZ73</text>
<text transform="translate(1244.6,1325.5) scale(0.951,1)" letter-spacing="0.57">A0A452E2F6</text>
<text transform="translate(1244.6,1387.6) scale(0.951,1)" letter-spacing="0.48">A0A452EWA3</text>
<text transform="translate(1244.6,1449.8) scale(0.951,1)" letter-spacing="0.46">A0A452EB57</text>
<text transform="translate(1244.6,1511.9) scale(0.951,1)" letter-spacing="0.22">A0A452DX94</text>
<text transform="translate(1244.6,1574.0) scale(0.951,1)" letter-spacing="0.25">A0A452DSW4</text>
<text transform="translate(1244.6,1636.1) scale(0.951,1)" letter-spacing="0.71">A0A452F4C8</text>
<text transform="translate(1244.6,1698.3) scale(0.951,1)" letter-spacing="0.26">A0A452EH63</text>
<text transform="translate(1244.6,1760.4) scale(0.951,1)" letter-spacing="0.57">A0A452ET10</text>
<text transform="translate(1244.6,1822.5) scale(0.951,1)" letter-spacing="0.46">A0A452DZ49</text>
<text transform="translate(1244.6,1884.7) scale(0.951,1)" letter-spacing="0.33">A0A452DZA7</text>
<text transform="translate(1244.6,1946.8) scale(0.951,1)" letter-spacing="0.46">A0A452FXT0</text>
<text transform="translate(1244.6,2008.9) scale(0.951,1)" letter-spacing="0.58">A0A452G3A7</text>
<text transform="translate(1244.6,2071.1) scale(0.951,1)" letter-spacing="0.69">A0A452F2V9</text>
<text transform="translate(1244.6,2133.2) scale(0.951,1)" letter-spacing="0.35">A0A452DYK6</text>
<text transform="translate(1244.6,2195.3) scale(0.951,1)" letter-spacing="0.54">A0A452FTY4</text>
<text transform="translate(1244.6,2257.5) scale(0.951,1)" letter-spacing="0.58">A0A452G5R6</text>
<text transform="translate(1244.6,2319.6) scale(0.951,1)" letter-spacing="0.58">A0A452FQK6</text>
<text transform="translate(1244.6,2381.7) scale(0.951,1)" letter-spacing="0.25">A0A452EI28</text>
<text transform="translate(1244.6,2443.8) scale(0.951,1)" letter-spacing="-0.07">A0A452EUI8</text>
<text transform="translate(1244.6,2506.0) scale(0.951,1)" letter-spacing="0.23">A0A452FMH2</text>
<text transform="translate(1244.6,2568.1) scale(0.951,1)" letter-spacing="0.58">A0A452FM96</text>
<text transform="translate(1244.6,2630.2) scale(0.951,1)" letter-spacing="0.81">A0A452FF95</text>
<text transform="translate(1244.6,2692.4) scale(0.951,1)" letter-spacing="0.22">A0A452EH87</text>
<text transform="translate(1244.6,2754.5) scale(0.951,1)" letter-spacing="-0.02">A0A452EVP1</text>
</g>
<g class="cl">
<text text-anchor="end" transform="translate(232.2,2794.4) rotate(-45) scale(0.86,1)" x="0" y="0">CKP11</text>
<text text-anchor="end" transform="translate(339.5,2794.4) rotate(-45) scale(0.86,1)" x="0" y="0">CKP12</text>
<text text-anchor="end" transform="translate(446.8,2794.4) rotate(-45) scale(0.86,1)" x="0" y="0">CKP13</text>
<text text-anchor="end" transform="translate(554.0,2794.4) rotate(-45) scale(0.86,1)" x="0" y="0">CKP14</text>
<text text-anchor="end" transform="translate(661.3,2794.4) rotate(-45) scale(0.86,1)" x="0" y="0">CKP15</text>
<text text-anchor="end" transform="translate(768.6,2794.4) rotate(-45) scale(0.86,1)" x="0" y="0">SSP21</text>
<text text-anchor="end" transform="translate(875.8,2794.4) rotate(-45) scale(0.86,1)" x="0" y="0">SSP22</text>
<text text-anchor="end" transform="translate(983.1,2794.4) rotate(-45) scale(0.86,1)" x="0" y="0">SSP23</text>
<text text-anchor="end" transform="translate(1090.3,2794.4) rotate(-45) scale(0.86,1)" x="0" y="0">SSP24</text>
<text text-anchor="end" transform="translate(1197.6,2794.4) rotate(-45) scale(0.86,1)" x="0" y="0">SSP25</text>
</g>
<path d="M111.8 257.6H162.0M111.8 319.7H162.0M112.8 256.6V320.7M103.2 195.5H162.0M103.2 288.7H112.8M104.2 194.5V289.7M111.8 444.0H162.0M111.8 506.1H162.0M112.8 443.0V507.1M103.2 381.9H162.0M103.2 475.0H112.8M104.2 380.9V476.0M92.8 242.1H104.2M92.8 428.4H104.2M93.8 241.1V429.4M84.1 133.3H162.0M84.1 335.3H93.8M85.1 132.3V336.3M111.8 692.5H162.0M111.8 754.6H162.0M112.8 691.5V755.6M122.2 816.8H162.0M122.2 878.9H162.0M123.2 815.8V879.9M140.9 941.0H162.0M140.9 1003.2H162.0M141.9 940.0V1004.2M140.9 1065.3H162.0M140.9 1127.4H162.0M141.9 1064.3V1128.4M132.6 972.1H141.9M132.6 1096.3H141.9M133.6 971.1V1097.3M151.6 1313.8H162.0M151.6 1375.9H162.0M152.6 1312.8V1376.9M140.9 1251.7H162.0M140.9 1344.9H152.6M141.9 1250.7V1345.9M132.6 1189.5H162.0M132.6 1298.3H141.9M133.6 1188.5V1299.3M122.2 1034.2H133.6M122.2 1243.9H133.6M123.2 1033.2V1244.9M111.8 847.8H123.2M111.8 1139.1H123.2M112.8 846.8V1140.1M103.2 723.6H112.8M103.2 993.4H112.8M104.2 722.6V994.4M92.8 630.4H162.0M92.8 858.5H104.2M93.8 629.4V859.5M84.1 568.2H162.0M84.1 744.4H93.8M85.1 567.2V745.4M73.7 234.3H85.1M73.7 656.3H85.1M74.7 233.3V657.3M122.2 1748.7H162.0M122.2 1810.8H162.0M123.2 1747.7V1811.8M111.8 1686.6H162.0M111.8 1779.8H123.2M112.8 1685.6V1780.8M103.2 1624.5H162.0M103.2 1733.2H112.8M104.2 1623.5V1734.2M92.8 1562.3H162.0M92.8 1678.8H104.2M93.8 1561.3V1679.8M84.1 1500.2H162.0M84.1 1620.6H93.8M85.1 1499.2V1621.6M73.7 1438.1H162.0M73.7 1560.4H85.1M74.7 1437.1V1561.4M63.3 445.3H74.7M63.3 1499.2H74.7M64.3 444.3V1500.2M54.7 71.2H162.0M54.7 972.3H64.3M55.7 70.2V973.3M122.2 2121.5H162.0M122.2 2183.6H162.0M123.2 2120.5V2184.6M122.2 2245.8H162.0M122.2 2307.9H162.0M123.2 2244.8V2308.9M111.8 2152.6H123.2M111.8 2276.8H123.2M112.8 2151.6V2277.8M103.2 2059.4H162.0M103.2 2214.7H112.8M104.2 2058.4V2215.7M103.2 2370.0H162.0M103.2 2432.1H162.0M104.2 2369.0V2433.1M92.8 2137.0H104.2M92.8 2401.1H104.2M93.8 2136.0V2402.1M84.1 1997.2H162.0M84.1 2269.0H93.8M85.1 1996.2V2270.0M103.2 2556.4H162.0M103.2 2618.5H162.0M104.2 2555.4V2619.5M92.8 2494.3H162.0M92.8 2587.5H104.2M93.8 2493.3V2588.5M92.8 2680.7H162.0M92.8 2742.8H162.0M93.8 2679.7V2743.8M84.1 2540.9H93.8M84.1 2711.7H93.8M85.1 2539.9V2712.7M73.7 2133.1H85.1M73.7 2626.3H85.1M74.7 2132.1V2627.3M63.3 1935.1H162.0M63.3 2379.7H74.7M64.3 1934.1V2380.7M54.7 1873.0H162.0M54.7 2157.4H64.3M55.7 1872.0V2158.4M44.3 521.7H55.7M44.3 2015.2H55.7M45.3 520.7V2016.2" fill="none" stroke="#777" stroke-width="2.1"/>
<defs><linearGradient id="lg" x1="0" y1="0" x2="0" y2="1"><stop offset="0" stop-color="#cc0a11"/><stop offset="0.523" stop-color="#eeeaab"/><stop offset="1" stop-color="#1c4ab0"/></linearGradient></defs>
<rect x="1571" y="82.5" width="38" height="317.1" fill="url(#lg)"/>
<rect x="1609" y="82.5" width="2.2" height="317.1" fill="#000"/>
<g class="lg">
<rect x="1609" y="82.8" width="7.8" height="2.3" fill="#000"/>
<text transform="translate(1620.6,91.9) scale(1.0,1)">2.00</text>
<rect x="1609" y="127.7" width="7.8" height="2.3" fill="#000"/>
<text transform="translate(1620.6,136.8) scale(1.0,1)">1.50</text>
<rect x="1609" y="172.6" width="7.8" height="2.3" fill="#000"/>
<text transform="translate(1620.6,181.8) scale(1.0,1)">1.00</text>
<rect x="1609" y="217.6" width="7.8" height="2.3" fill="#000"/>
<text transform="translate(1620.6,226.7) scale(1.0,1)">0.50</text>
<rect x="1609" y="262.5" width="7.8" height="2.3" fill="#000"/>
<text transform="translate(1620.6,271.7) scale(1.0,1)">0.00</text>
<rect x="1609" y="307.5" width="7.8" height="2.3" fill="#000"/>
<text transform="translate(1620.6,316.6) scale(1.0,1)">-0.50</text>
<rect x="1609" y="352.4" width="7.8" height="2.3" fill="#000"/>
<text transform="translate(1620.6,361.5) scale(1.0,1)">-1.00</text>
<rect x="1609" y="397.3" width="7.8" height="2.3" fill="#000"/>
<text transform="translate(1620.6,406.5) scale(1.0,1)">-1.50</text>
</g>
</svg></body></html>
